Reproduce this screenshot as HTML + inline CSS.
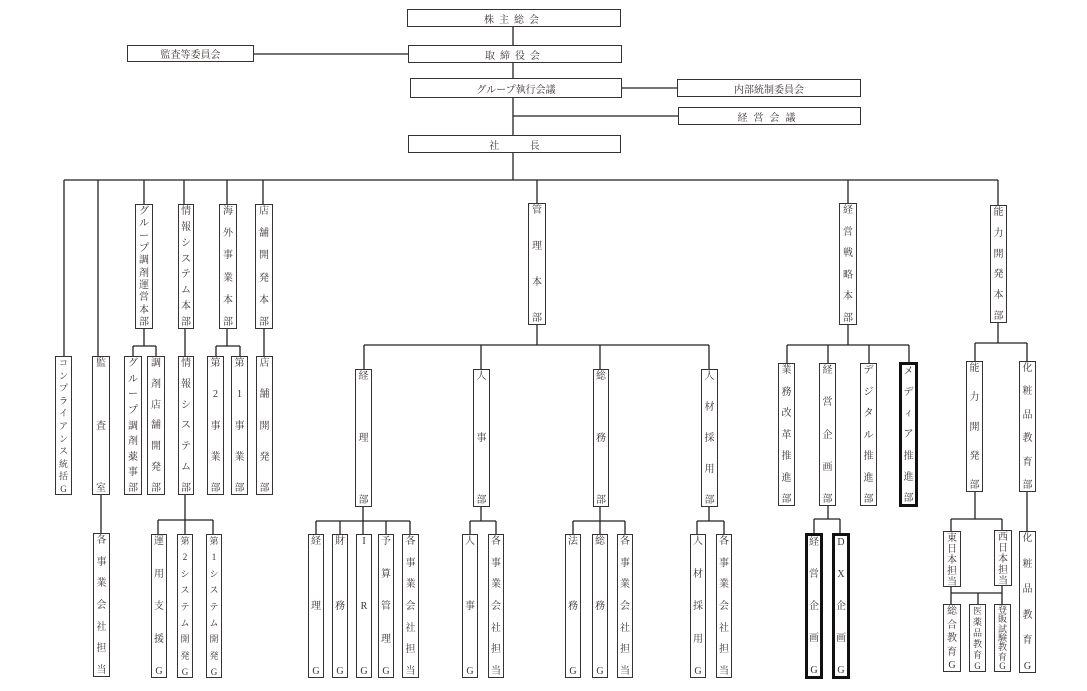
<!DOCTYPE html>
<html><head><meta charset="utf-8">
<style>
body{margin:0;background:#fff;}
#c{position:relative;width:1087px;height:691px;overflow:hidden;background:#fff;font-family:"Liberation Serif","Noto Serif CJK SC","Noto Sans CJK JP",serif;color:#3a3030;}
.h{position:absolute;box-sizing:border-box;border:1.5px solid #333;background:#fff;display:flex;align-items:center;justify-content:center;font-size:10px;}
.v{position:absolute;box-sizing:border-box;border:1.5px solid #333;background:#fff;display:flex;flex-direction:column;justify-content:space-between;align-items:center;font-size:10px;line-height:11px;padding:1px 0 0 0;}
.v span{display:block;}
.t{border:3px solid #111;}
.s{font-size:9px;line-height:10px;}
svg{position:absolute;left:0;top:0;}
</style></head><body><div id="c">
<svg width="1087" height="691" stroke="#222" stroke-width="1.3" fill="none">
<path d="M513 26V180M253 54H408M621 88H677M513 116H678M64 180H998"/>
<path d="M64 180V356M98 180V356M144 180V204M184 180V204M227 180V204M263 180V204M537 180V203M848 180V203M998 180V205"/>
<path d="M144 328V346M133 346H156M133 346V356M156 346V356M185 328V356M227 328V346M216 346H240M216 346V356M240 346V356M264 328V356"/>
<path d="M101 494V533M185 494V534M158 520H213M158 520V534M213 520V534"/>
<path d="M537 325V345M364 345H709M364 345V369M481 345V369M600 345V369M709 345V369"/>
<path d="M363 506V534M316 521H410M316 521V534M340 521V534M386 521V534M410 521V534"/>
<path d="M481 506V521M470 521H496M470 521V534M496 521V534"/>
<path d="M600 506V534M573 521H625M573 521V534M625 521V534"/>
<path d="M709 506V521M697 521H724M697 521V534M724 521V534"/>
<path d="M848 325V345M787 345H909M787 345V363M828 345V363M869 345V363M909 345V363"/>
<path d="M828 505V519M814 519H840M814 519V534M840 519V534"/>
<path d="M998 323V343M975 343H1027M975 343V361M1027 343V361"/>
<path d="M975 491V519M951 519H1002M951 519V531M1002 519V530M1027 491V531"/>
<path d="M951 586V604M951 593H1002M978 593V604M1002 585V604"/>
</svg>

<div class="h" style="left:407px;top:9px;width:214px;height:18px;letter-spacing:5px">株主総会</div>
<div class="h" style="left:408px;top:45px;width:214px;height:18px;letter-spacing:5px">取締役会</div>
<div class="h" style="left:127px;top:45px;width:127px;height:17px">監査等委員会</div>
<div class="h" style="left:410px;top:78px;width:212px;height:20px">グループ執行会議</div>
<div class="h" style="left:677px;top:79px;width:184px;height:18px">内部統制委員会</div>
<div class="h" style="left:678px;top:107px;width:183px;height:18px;letter-spacing:6px">経営会議</div>
<div class="h" style="left:408px;top:135px;width:213px;height:18px;word-spacing:28px">社 長</div>

<div class="v" style="left:135px;top:204px;width:18px;height:125px"><span>グ</span><span>ル</span><span>ー</span><span>プ</span><span>調</span><span>剤</span><span>運</span><span>営</span><span>本</span><span>部</span></div>
<div class="v" style="left:178px;top:204px;width:16px;height:125px"><span>情</span><span>報</span><span>シ</span><span>ス</span><span>テ</span><span>ム</span><span>本</span><span>部</span></div>
<div class="v" style="left:219px;top:204px;width:18px;height:125px"><span>海</span><span>外</span><span>事</span><span>業</span><span>本</span><span>部</span></div>
<div class="v" style="left:255px;top:204px;width:18px;height:125px"><span>店</span><span>舗</span><span>開</span><span>発</span><span>本</span><span>部</span></div>
<div class="v" style="left:528px;top:203px;width:18px;height:122px"><span>管</span><span>理</span><span>本</span><span>部</span></div>
<div class="v" style="left:839px;top:203px;width:18px;height:122px"><span>経</span><span>営</span><span>戦</span><span>略</span><span>本</span><span>部</span></div>
<div class="v" style="left:990px;top:205px;width:17px;height:118px"><span>能</span><span>力</span><span>開</span><span>発</span><span>本</span><span>部</span></div>

<div class="v s" style="left:55px;top:356px;width:17px;height:139px"><span>コ</span><span>ン</span><span>プ</span><span>ラ</span><span>イ</span><span>ア</span><span>ン</span><span>ス</span><span>統</span><span>括</span><span>G</span></div>
<div class="v" style="left:92px;top:356px;width:18px;height:139px"><span>監</span><span>査</span><span>室</span></div>
<div class="v" style="left:124px;top:356px;width:18px;height:139px"><span>グ</span><span>ル</span><span>ー</span><span>プ</span><span>調</span><span>剤</span><span>薬</span><span>事</span><span>部</span></div>
<div class="v" style="left:147px;top:356px;width:18px;height:139px"><span>調</span><span>剤</span><span>店</span><span>舗</span><span>開</span><span>発</span><span>部</span></div>
<div class="v" style="left:178px;top:356px;width:16px;height:139px"><span>情</span><span>報</span><span>シ</span><span>ス</span><span>テ</span><span>ム</span><span>部</span></div>
<div class="v" style="left:207px;top:356px;width:17px;height:139px"><span>第</span><span>2</span><span>事</span><span>業</span><span>部</span></div>
<div class="v" style="left:231px;top:356px;width:17px;height:139px"><span>第</span><span>1</span><span>事</span><span>業</span><span>部</span></div>
<div class="v" style="left:256px;top:356px;width:17px;height:139px"><span>店</span><span>舗</span><span>開</span><span>発</span><span>部</span></div>

<div class="v" style="left:93px;top:533px;width:17px;height:144px"><span>各</span><span>事</span><span>業</span><span>会</span><span>社</span><span>担</span><span>当</span></div>
<div class="v" style="left:151px;top:534px;width:16px;height:144px"><span>運</span><span>用</span><span>支</span><span>援</span><span>G</span></div>
<div class="v s" style="left:177px;top:534px;width:16px;height:144px"><span>第</span><span>2</span><span>シ</span><span>ス</span><span>テ</span><span>ム</span><span>開</span><span>発</span><span>G</span></div>
<div class="v s" style="left:206px;top:534px;width:16px;height:144px"><span>第</span><span>1</span><span>シ</span><span>ス</span><span>テ</span><span>ム</span><span>開</span><span>発</span><span>G</span></div>

<div class="v" style="left:355px;top:369px;width:17px;height:138px"><span>経</span><span>理</span><span>部</span></div>
<div class="v" style="left:473px;top:369px;width:17px;height:138px"><span>人</span><span>事</span><span>部</span></div>
<div class="v" style="left:593px;top:369px;width:16px;height:138px"><span>総</span><span>務</span><span>部</span></div>
<div class="v" style="left:701px;top:369px;width:17px;height:138px"><span>人</span><span>材</span><span>採</span><span>用</span><span>部</span></div>

<div class="v" style="left:308px;top:534px;width:16px;height:144px"><span>経</span><span>理</span><span>G</span></div>
<div class="v" style="left:332px;top:534px;width:16px;height:144px"><span>財</span><span>務</span><span>G</span></div>
<div class="v" style="left:356px;top:534px;width:16px;height:144px"><span>I</span><span>R</span><span>G</span></div>
<div class="v" style="left:378px;top:534px;width:16px;height:144px"><span>予</span><span>算</span><span>管</span><span>理</span><span>G</span></div>
<div class="v" style="left:402px;top:534px;width:17px;height:144px"><span>各</span><span>事</span><span>業</span><span>会</span><span>社</span><span>担</span><span>当</span></div>
<div class="v" style="left:462px;top:534px;width:16px;height:144px"><span>人</span><span>事</span><span>G</span></div>
<div class="v" style="left:488px;top:534px;width:16px;height:144px"><span>各</span><span>事</span><span>業</span><span>会</span><span>社</span><span>担</span><span>当</span></div>
<div class="v" style="left:565px;top:534px;width:16px;height:144px"><span>法</span><span>務</span><span>G</span></div>
<div class="v" style="left:592px;top:534px;width:16px;height:144px"><span>総</span><span>務</span><span>G</span></div>
<div class="v" style="left:617px;top:534px;width:16px;height:144px"><span>各</span><span>事</span><span>業</span><span>会</span><span>社</span><span>担</span><span>当</span></div>
<div class="v" style="left:690px;top:534px;width:16px;height:144px"><span>人</span><span>材</span><span>採</span><span>用</span><span>G</span></div>
<div class="v" style="left:716px;top:534px;width:16px;height:144px"><span>各</span><span>事</span><span>業</span><span>会</span><span>社</span><span>担</span><span>当</span></div>

<div class="v" style="left:778px;top:363px;width:17px;height:143px"><span>業</span><span>務</span><span>改</span><span>革</span><span>推</span><span>進</span><span>部</span></div>
<div class="v" style="left:819px;top:363px;width:17px;height:143px"><span>経</span><span>営</span><span>企</span><span>画</span><span>部</span></div>
<div class="v" style="left:860px;top:363px;width:17px;height:143px"><span>デ</span><span>ジ</span><span>タ</span><span>ル</span><span>推</span><span>進</span><span>部</span></div>
<div class="v t" style="left:899px;top:362px;width:19px;height:145px"><span>メ</span><span>デ</span><span>ィ</span><span>ア</span><span>推</span><span>進</span><span>部</span></div>
<div class="v t" style="left:805px;top:533px;width:18px;height:146px"><span>経</span><span>営</span><span>企</span><span>画</span><span>G</span></div>
<div class="v t" style="left:832px;top:533px;width:18px;height:146px"><span>D</span><span>X</span><span>企</span><span>画</span><span>G</span></div>

<div class="v" style="left:966px;top:361px;width:17px;height:131px"><span>能</span><span>力</span><span>開</span><span>発</span><span>部</span></div>
<div class="v" style="left:1019px;top:361px;width:17px;height:131px"><span>化</span><span>粧</span><span>品</span><span>教</span><span>育</span><span>部</span></div>
<div class="v" style="left:943px;top:531px;width:18px;height:56px"><span>東</span><span>日</span><span>本</span><span>担</span><span>当</span></div>
<div class="v" style="left:994px;top:530px;width:18px;height:56px"><span>西</span><span>日</span><span>本</span><span>担</span><span>当</span></div>
<div class="v" style="left:943px;top:604px;width:18px;height:68px"><span>総</span><span>合</span><span>教</span><span>育</span><span>G</span></div>
<div class="v s" style="left:969px;top:604px;width:17px;height:68px"><span>医</span><span>薬</span><span>品</span><span>教</span><span>育</span><span>G</span></div>
<div class="v s" style="left:994px;top:604px;width:17px;height:68px;line-height:9px"><span>登</span><span>販</span><span>試</span><span>験</span><span>教</span><span>育</span><span>G</span></div>
<div class="v" style="left:1019px;top:531px;width:17px;height:142px"><span>化</span><span>粧</span><span>品</span><span>教</span><span>育</span><span>G</span></div>
</div></body></html>
